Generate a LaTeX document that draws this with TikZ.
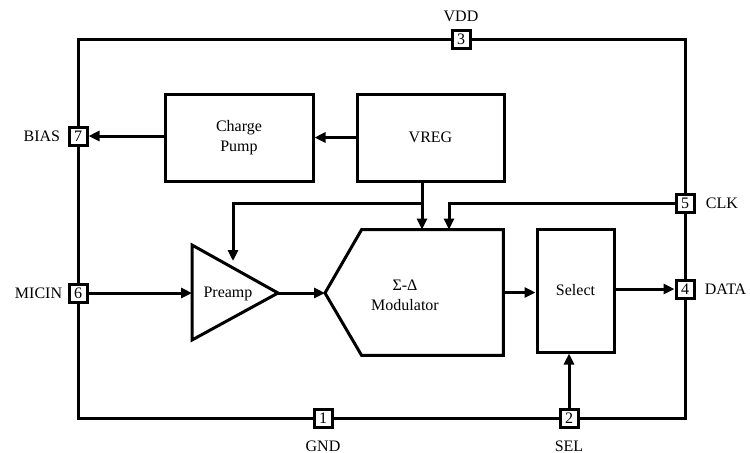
\documentclass[tikz,border=0pt]{standalone}
\usepackage{fontspec}
\setmainfont{Liberation Serif}
\usetikzlibrary{arrows.meta, positioning, calc, backgrounds}

\begin{document}
\begin{tikzpicture}[x=0.5pt, y=-0.5pt,
  font=\fontsize{8}{10}\selectfont,
  wire/.style={line width=1.5pt},
  arr/.style={wire, -{Triangle[length=5.5pt, width=5pt]}},
  blk/.style={draw, line width=1.5pt, align=center, inner sep=0pt},
  pin/.style={draw, line width=1.5pt, fill=white, minimum size=9pt, inner sep=0pt},
  pinname/.style={inner sep=1pt}]
  \useasboundingbox (0,0) rectangle (750,452);
  % Pins
  \node[pin] (p1) at (323,418) {1};
  \node[pin] (p2) at (569,418) {2};
  \node[pin] (p3) at (461,39) {3};
  \node[pin] (p4) at (685,289) {4};
  \node[pin] (p5) at (685,203) {5};
  \node[pin] (p6) at (78,293) {6};
  \node[pin] (p7) at (78,136) {7};
  \node[pinname, above=2pt of p3] (vdd) {VDD};
  \node[pinname, below=5pt of p1] (gnd) {GND};
  \node[pinname, below=5pt of p2] (sel-name) {SEL};
  \node[pinname, left=2.5pt of p7] (bias) {BIAS};
  \node[pinname, left=1.5pt of p6] (micin) {MICIN};
  \node[pinname, right=4pt of p5] (clk) {CLK};
  \node[pinname, right=3.5pt of p4] (data) {DATA};
  % Package outline
  \begin{scope}[on background layer]
    \draw[wire] (p6) |- (p3) -| (p4) |- (p2) -- (p1) -| (p6);
  \end{scope}
  % Blocks
  \node[blk, minimum width=74pt, minimum height=43.5pt] (cp) at (239,137.5) {Charge\\Pump};
  \node[blk, minimum width=73.5pt, minimum height=43.5pt] (vreg) at (430.5,137.5) {VREG};
  \node[blk, minimum width=38.5pt, minimum height=61.5pt] (sel) at (575.5,290.5) {Select};
  % Modulator
  \node[minimum width=70.5pt, minimum height=62.5pt, inner sep=0pt] (mod) at (432.5,292.5) {};
  \coordinate (mod-in) at (325,293);
  \draw[wire] (mod.north west) -- (mod.north east) -- (mod.south east)
    -- (mod.south west) -- (mod-in) -- cycle;
  \node[align=center] (modtxt) at (405,295) {Σ-Δ\\Modulator};
  % Preamp
  \coordinate (pre-top) at (192,245);
  \coordinate (pre-bot) at (192,340);
  \coordinate (pre-in) at (192,293);
  \coordinate (pre-out) at (278,293);
  \draw[wire] (pre-top) -- (pre-bot) -- (pre-out) -- cycle;
  \node (pre) at (228,294) {Preamp};
  % Signal paths
  \draw[arr] (vreg) -- (cp);
  \draw[arr] (cp.west |- p7) -- (p7);
  \draw[arr] (p6) -- (pre-in);
  \draw[arr] (pre-out) -- (mod-in);
  \draw[arr] (mod.east) -- (mod.east -| sel.west);
  \draw[arr] (sel.east |- p4) -- (p4);
  \draw[arr] (p2) -- (p2 |- sel.south);
  % Supply and clock
  \coordinate (vtap) at (422,203);
  \coordinate (pre-bias) at (233,261);
  \coordinate (clk-in) at (449,203);
  \draw[arr] (vreg.south -| vtap) -- (vtap |- mod.north);
  \draw[arr] (vtap) -| (pre-bias);
  \draw[arr] (p5) -| (clk-in |- mod.north);
\end{tikzpicture}
\end{document}
